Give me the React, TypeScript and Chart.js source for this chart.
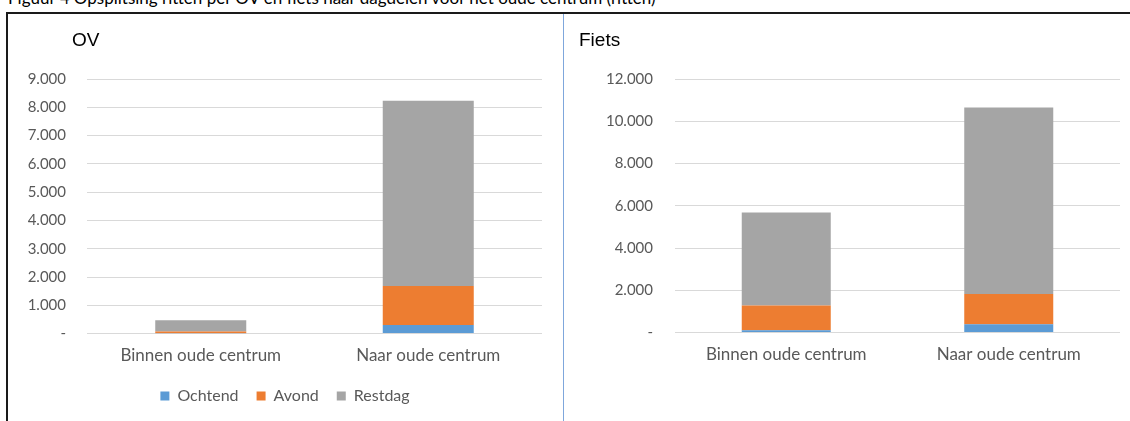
import React, { useEffect, useRef } from "react";
import { Chart, registerables } from "chart.js";

Chart.register(...registerables);

const categories = ["Binnen oude centrum", "Naar oude centrum"];
const seriesNames = ["Ochtend", "Avond", "Restdag"];
const seriesColors = ["#5B9BD5", "#ED7D31", "#A5A5A5"];

const ovOchtend = [10, 300];
const ovAvond = [60, 1380];
const ovRestdag = [400, 6550];

const fietsOchtend = [110, 400];
const fietsAvond = [1170, 1430];
const fietsRestdag = [4400, 8820];

const ovMax = 9000;
const ovStep = 1000;
const fietsMax = 12000;
const fietsStep = 2000;

const TEXT = "#595959";
const FONT = "Lato, 'Liberation Sans', sans-serif";

function fmt(v: number) {
  if (v === 0) return "-";
  return String(Math.round(v)).replace(/\B(?=(\d{3})+(?!\d))/g, ".");
}

const legendShift = {
  id: "legendShift",
  afterLayout(chart: any) {
    const l = chart.legend;
    if (l && l.options && l.options.display) {
      l.top -= 8;
      l.bottom -= 8;
    }
  },
};

function makeConfig(
  values: number[][],
  max: number,
  step: number,
  showLegend: boolean,
  padBottom: number,
  leftW: number,
  rightW: number,
  tickPad: number
): any {
  return {
    type: "bar",
    data: {
      labels: categories,
      datasets: seriesNames.map((name, i) => ({
        label: name,
        data: values[i],
        backgroundColor: seriesColors[i],
        borderWidth: 0,
        barPercentage: 0.4,
        categoryPercentage: 1,
      })),
    },
    plugins: [legendShift],
    options: {
      animation: false,
      responsive: false,
      layout: { padding: { top: 65, bottom: padBottom, left: 0, right: 0 } },
      plugins: {
        title: { display: false },
        tooltip: { enabled: false },
        legend: {
          display: showLegend,
          position: "bottom",
          labels: {
            boxWidth: 9,
            boxHeight: 9,
            color: TEXT,
            padding: 18,
            font: { size: 16, family: FONT },
          },
        },
      },
      scales: {
        x: {
          stacked: true,
          grid: { display: false, drawTicks: false },
          border: { display: false },
          ticks: { color: TEXT, padding: 12, font: { size: 17, family: FONT } },
        },
        y: {
          stacked: true,
          min: 0,
          max: max,
          grid: { color: "#D9D9D9", drawTicks: false, lineWidth: 1 },
          border: { display: false },
          ticks: {
            stepSize: step,
            padding: tickPad,
            color: TEXT,
            font: { size: 15, family: FONT },
            callback: (v: any) => fmt(Number(v)),
          },
          afterFit: (s: any) => {
            s.width = leftW;
          },
        },
        yR: {
          type: "linear",
          position: "right",
          display: true,
          grid: { display: false, drawTicks: false },
          border: { display: false },
          ticks: { display: false },
          afterFit: (s: any) => {
            s.width = rightW;
          },
        },
      },
    },
  };
}

function ChartBox(props: { config: any; width: number; height: number; style: any }) {
  const ref = useRef<HTMLCanvasElement | null>(null);
  useEffect(() => {
    if (!ref.current) return;
    const c = new Chart(ref.current, props.config);
    return () => c.destroy();
  }, []);
  return (
    <canvas
      ref={ref}
      width={props.width}
      height={props.height}
      style={{ position: "absolute", width: props.width, height: props.height, ...props.style }}
    />
  );
}

export default function App() {
  const ovCfg = makeConfig([ovOchtend, ovAvond, ovRestdag], ovMax, ovStep, true, -1, 79, 20, 21);
  const fietsCfg = makeConfig(
    [fietsOchtend, fietsAvond, fietsRestdag],
    fietsMax,
    fietsStep,
    false,
    44,
    110,
    10,
    22
  );
  return (
    <div
      style={{
        position: "fixed",
        left: 0,
        top: 0,
        width: 1130,
        height: 421,
        background: "#fff",
        overflow: "hidden",
      }}
    >
      <div
        style={{
          position: "absolute",
          left: 8,
          top: -12,
          fontFamily: FONT,
          fontSize: 17,
          lineHeight: "20px",
          color: "#000",
          whiteSpace: "nowrap",
        }}
      >
        Figuur 4 Opsplitsing ritten per OV en fiets naar dagdelen voor het oude centrum (ritten)
      </div>
      <div style={{ position: "absolute", left: 6, top: 12, width: 1124, height: 2, background: "#1a1a1a" }} />
      <div style={{ position: "absolute", left: 6, top: 12, width: 2, height: 409, background: "#1a1a1a" }} />
      <ChartBox config={ovCfg} width={554} height={407} style={{ left: 8, top: 14 }} />
      <ChartBox config={fietsCfg} width={565} height={407} style={{ left: 565, top: 14 }} />
      <div style={{ position: "absolute", left: 563, top: 14, width: 1, height: 407, background: "#7FA7DC" }} />
      <div
        style={{
          position: "absolute",
          left: 72,
          top: 29,
          fontFamily: "'Liberation Sans', Arial, sans-serif",
          fontSize: 19,
          lineHeight: "22px",
          color: "#000",
        }}
      >
        OV
      </div>
      <div
        style={{
          position: "absolute",
          left: 579,
          top: 29,
          fontFamily: "'Liberation Sans', Arial, sans-serif",
          fontSize: 19,
          lineHeight: "22px",
          color: "#000",
        }}
      >
        Fiets
      </div>
    </div>
  );
}
